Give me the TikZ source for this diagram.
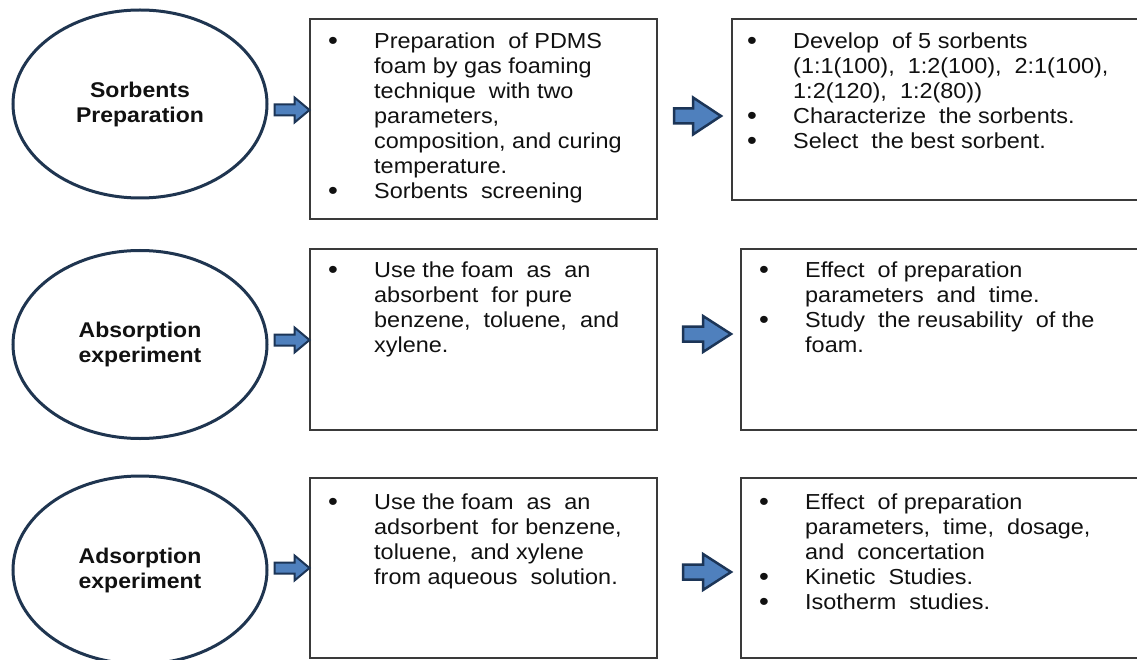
\documentclass[tikz,border=0pt]{standalone}
\usepackage{fontspec}
\setmainfont{Liberation Sans}[FakeStretch=1.08]
\usetikzlibrary{shapes.geometric}
\definecolor{navy}{HTML}{1F3550}
\definecolor{arrfill}{HTML}{4F80BD}
\definecolor{arredge}{HTML}{1C3557}
\definecolor{boxedge}{HTML}{3A3A3A}
\definecolor{txt}{HTML}{111111}
\newcommand\lns[1]{\begin{tabular}[t]{@{}l@{}}#1\end{tabular}}
% start, length, shaft, head, headlength, linewidth
\newcommand\BArrow[6]{%
  \draw[barrow, line width=#6] #1 ++(0,-#3/2) -- ++(#2-#5,0) -- ++(0,-#4/2+#3/2)
    -- ++(#5,#4/2) -- ++(-#5,#4/2) -- ++(0,-#4/2+#3/2) -- ++(-#2+#5,0) -- cycle;}
\tikzset{
  stage/.style={ellipse, draw=navy, line width=3pt, minimum width=254pt, minimum height=188pt,
    inner sep=0pt, align=center, text=txt, font=\fontsize{21.3}{25}\selectfont\bfseries},
  infobox/.style={rectangle, draw=boxedge, line width=2pt, inner sep=0pt},
  itemtext/.style={anchor=base west, inner sep=0pt, text=txt, font=\fontsize{21.7}{25}\selectfont},
  bul/.style={anchor=base, inner sep=0pt, text=txt, yshift=-1pt, font=\fontsize{26}{25}\selectfont},
  barrow/.style={draw=arredge, fill=arrfill, line join=miter}
}
\begin{document}
\begin{tikzpicture}[x=1pt, y=-1pt]
\useasboundingbox (0,0) rectangle (1137,660);
\fill[white] (0,0) rectangle (1137,660);
\begin{scope}
\clip (0,0) rectangle (1137,660);
% stages
\node[stage] (e1) at (140,104) {Sorbents\\Preparation};
\node[stage] (e2) at (140,344.5) {Absorption\\experiment};
\node[stage] (e3) at (140,570) {Adsorption\\experiment};
% boxes
\node[infobox, minimum width=347pt, minimum height=200pt] (b1a) at (483.5,119) {};
\node[infobox, minimum width=428pt, minimum height=181pt] (b1b) at (946,109.5) {};
\node[infobox, minimum width=347pt, minimum height=181pt] (b2a) at (483.5,339.5) {};
\node[infobox, minimum width=419pt, minimum height=181pt] (b2b) at (950.5,339.5) {};
\node[infobox, minimum width=347pt, minimum height=180pt] (b3a) at (483.5,568) {};
\node[infobox, minimum width=419pt, minimum height=180pt] (b3b) at (950.5,568) {};
% row 1 texts
\node[bul] (u1) at (333,49) {•};
\node[itemtext] (t1) at (374,49) {\lns{Preparation\ \ of PDMS\\foam by gas foaming\\technique\ \ with two\\parameters,\\composition, and curing\\temperature.}};
\node[bul] (u2) at (333,199) {•};
\node[itemtext] (t2) at (374,199) {Sorbents\ \ screening};
\node[bul] (u3) at (752,49) {•};
\node[itemtext] (t3) at (793,49) {\lns{Develop\ \ of 5 sorbents\\(1:1(100),\ \ 1:2(100),\ \ 2:1(100),\\1:2(120),\ \ 1:2(80))}};
\node[bul] (u4) at (752,124) {•};
\node[itemtext] (t4) at (793,124) {Characterize\ \ the sorbents.};
\node[bul] (u5) at (752,149) {•};
\node[itemtext] (t5) at (793,149) {Select\ \ the best sorbent.};
% row 2 texts
\node[bul] (u6) at (333,277) {•};
\node[itemtext] (t6) at (374,277) {\lns{Use the foam\ \ as\ \ an\\absorbent\ \ for pure\\benzene,\ \ toluene,\ \ and\\xylene.}};
\node[bul] (u7) at (764,277) {•};
\node[itemtext] (t7) at (805,277) {\lns{Effect\ \ of preparation\\parameters\ \ and\ \ time.}};
\node[bul] (u8) at (764,327) {•};
\node[itemtext] (t8) at (805,327) {\lns{Study\ \ the reusability\ \ of the\\foam.}};
% row 3 texts
\node[bul] (u9) at (333,509) {•};
\node[itemtext] (t9) at (374,509) {\lns{Use the foam\ \ as\ \ an\\adsorbent\ \ for benzene,\\toluene,\ \ and xylene\\from aqueous\ \ solution.}};
\node[bul] (u10) at (764,509) {•};
\node[itemtext] (t10) at (805,509) {\lns{Effect\ \ of preparation\\parameters,\ \ time,\ \ dosage,\\and\ \ concertation}};
\node[bul] (u11) at (764,584) {•};
\node[itemtext] (t11) at (805,584) {Kinetic\ \ Studies.};
\node[bul] (u12) at (764,609) {•};
\node[itemtext] (t12) at (805,609) {Isotherm\ \ studies.};
% arrows
\BArrow{([shift={(6,6)}]e1.east)}{35}{11}{25}{15}{2pt}
\BArrow{([shift={(16,-3)}]b1a.east)}{47}{15}{37}{28}{2.5pt}
\BArrow{([shift={(6,-4.5)}]e2.east)}{35}{11}{25}{15}{2pt}
\BArrow{([shift={(25,-5.5)}]b2a.east)}{48}{15}{36}{28}{2.5pt}
\BArrow{([shift={(6,-2)}]e3.east)}{35}{11}{25}{15}{2pt}
\BArrow{([shift={(25,4)}]b3a.east)}{48}{15}{36}{28}{2.5pt}
\end{scope}
\end{tikzpicture}
\end{document}
